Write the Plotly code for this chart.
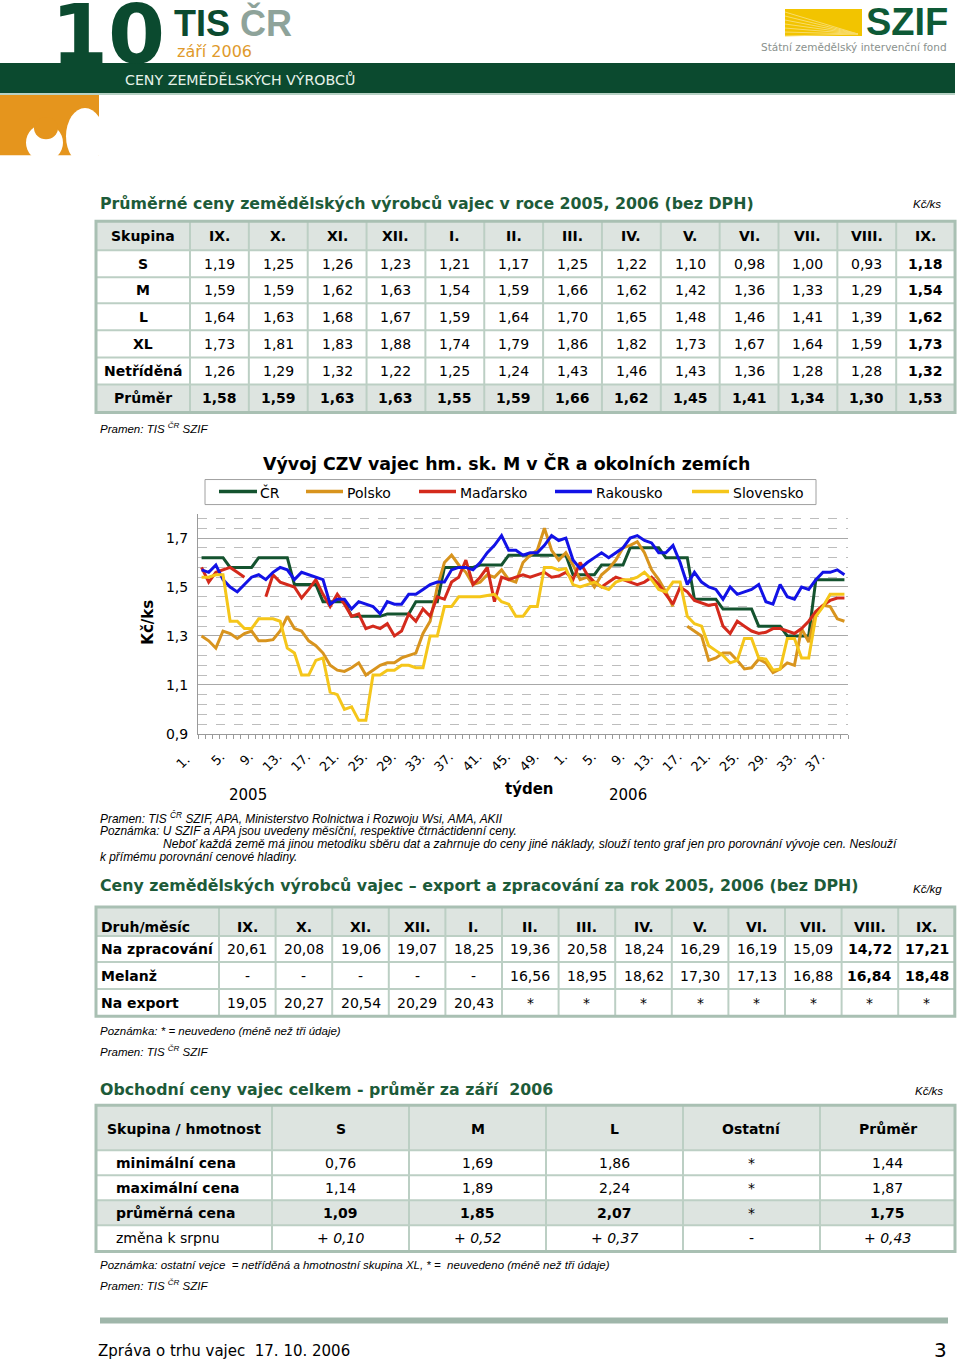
import plotly.graph_objects as go

W, H = 960, 1359
CAL_SY = 0.993  # measured vertical scale of the captured page


def fx(px):
    return px / W


def fy(py):
    return 1 - (py / CAL_SY) / H


# ---------------- chart data (weekly prices, Kč/ks) ----------------
weeks_2005 = [str(w) + "." for w in range(1, 53)]
weeks_2006 = [str(w) + "." for w in range(1, 40)]
week_labels = weeks_2005 + weeks_2006

cr = [1.62, 1.62, 1.62, 1.62, 1.58, 1.58, 1.58, 1.58, 1.62, 1.62, 1.62, 1.62, 1.62,
      1.51, 1.51, 1.51, 1.51, 1.44, 1.44, 1.44, 1.44, 1.38, 1.38, 1.38, 1.38, 1.38,
      1.39, 1.39, 1.39, 1.39, 1.44, 1.44, 1.44, 1.44, 1.58, 1.58, 1.58, 1.58, 1.58,
      1.59, 1.59, 1.59, 1.59, 1.63, 1.63, 1.63, 1.63, 1.63, 1.63, 1.63, 1.63, 1.63,
      1.55, 1.55, 1.55, 1.55, 1.59, 1.59, 1.59, 1.59, 1.66, 1.66, 1.66, 1.66, 1.66,
      1.62, 1.62, 1.62, 1.62, 1.45, 1.45, 1.45, 1.45, 1.41, 1.41, 1.41, 1.41, 1.41,
      1.34, 1.34, 1.34, 1.34, 1.30, 1.30, 1.30, 1.30, 1.53, 1.53, 1.53, 1.53, 1.53]

polsko = [1.30, 1.28, 1.25, 1.32, 1.31, 1.29, 1.31, 1.32, 1.28, 1.28, 1.285, 1.32, 1.38,
          1.33, 1.32, 1.28, 1.26, 1.23, 1.18, 1.16, 1.155, 1.17, 1.19, 1.14, 1.16, 1.18,
          1.19, 1.19, 1.21, 1.22, 1.23, 1.31, 1.36, 1.50, 1.60, 1.63, 1.59, 1.56, 1.51,
          1.52, 1.55, 1.54, 1.57, 1.53, 1.52, 1.60, 1.63, 1.65, 1.74, 1.65, 1.61, 1.64,
          1.59, 1.53, 1.54, 1.50, 1.55, 1.575, 1.61, 1.66, 1.67, 1.685, 1.64, 1.57, 1.53,
          1.48, 1.42, None, 1.34, 1.32, 1.30, 1.20, 1.21, 1.23, 1.23, 1.20, 1.165, 1.17,
          1.205, 1.19, 1.15, 1.165, 1.19, 1.18, 1.33, 1.275, 1.40, 1.425, 1.42, 1.37, 1.36]

madarsko = [1.58, 1.52, 1.56, 1.57, 1.58, 1.56, 1.54, None, None, 1.46, 1.55, 1.52, 1.51,
            1.50, 1.455, 1.49, 1.53, 1.47, 1.42, 1.47, 1.43, 1.38, 1.39, 1.33, 1.34, 1.33,
            1.35, 1.30, 1.32, 1.39, 1.36, 1.41, 1.38, 1.46, 1.45, 1.52, 1.54, 1.61, 1.51,
            1.54, 1.58, 1.44, 1.54, 1.53, 1.54, 1.55, 1.54, 1.55, 1.56, 1.54, 1.545, 1.56,
            1.53, 1.60, 1.55, 1.52, 1.50, 1.52, 1.54, 1.53, 1.52, 1.51, 1.52, 1.54, 1.51,
            1.47, 1.43, 1.50, 1.48, 1.445, 1.435, 1.425, 1.43, 1.34, 1.31, 1.36, 1.34, 1.32,
            1.31, 1.315, 1.33, 1.33, 1.32, 1.31, 1.33, 1.36, 1.40, 1.425, 1.445, 1.455, 1.455]

rakousko = [1.57, 1.56, 1.59, 1.53, 1.50, 1.48, 1.51, 1.54, 1.55, 1.53, 1.56, 1.58, 1.57,
            1.53, 1.56, 1.55, 1.54, 1.53, 1.43, 1.45, 1.45, 1.41, 1.44, 1.43, 1.42, 1.39,
            1.44, 1.43, 1.43, 1.47, 1.47, 1.49, 1.51, 1.52, 1.52, 1.57, 1.58, 1.58, 1.57,
            1.60, 1.64, 1.67, 1.71, 1.65, 1.65, 1.63, 1.64, 1.64, 1.67, 1.71, 1.69, 1.70,
            1.61, 1.575, 1.60, 1.62, 1.64, 1.62, 1.64, 1.66, 1.70, 1.71, 1.69, 1.68, 1.64,
            1.64, 1.67, 1.60, 1.51, 1.56, 1.52, 1.50, 1.49, 1.45, 1.50, 1.47, 1.48, 1.49,
            1.51, 1.44, 1.43, 1.51, 1.46, 1.45, 1.50, 1.49, 1.53, 1.56, 1.56, 1.57, 1.55]

slovensko = [1.54, 1.54, 1.55, 1.55, 1.36, 1.36, 1.33, 1.33, 1.37, 1.37, 1.37, 1.36, 1.25,
             1.23, 1.14, 1.14, 1.20, 1.21, 1.07, 1.06, 1.00, 1.01, 0.955, 0.955, 1.14, 1.14,
             1.16, 1.16, 1.18, 1.18, 1.17, 1.17, 1.30, 1.30, 1.42, 1.42, 1.46, 1.46, 1.46,
             1.46, 1.465, 1.47, 1.44, 1.43, 1.38, 1.38, 1.42, 1.42, 1.58, 1.58, 1.57, 1.575,
             1.51, 1.50, 1.51, 1.52, 1.50, 1.49, 1.52, 1.53, 1.53, 1.54, 1.56, 1.53, 1.49,
             1.48, 1.52, 1.52, 1.38, 1.35, 1.34, 1.26, 1.24, 1.22, 1.19, 1.20, 1.29, 1.29,
             1.21, 1.205, 1.16, 1.165, 1.29, 1.29, 1.21, 1.21, 1.38, 1.42, 1.47, 1.47, 1.47]

series_names = ["ČR", "Polsko", "Maďarsko", "Rakousko", "Slovensko"]
series_values = [cr, polsko, madarsko, rakousko, slovensko]
series_colors = ["#14532f", "#d8941e", "#d42a1c", "#1212e6", "#f5c61a"]

y_ticks = [0.9, 1.1, 1.3, 1.5, 1.7]

# ---------------- table 1 data ----------------
months = ["IX.", "X.", "XI.", "XII.", "I.", "II.", "III.", "IV.", "V.", "VI.", "VII.", "VIII.", "IX."]
groups = ["S", "M", "L", "XL", "Netříděná", "Průměr"]
price_S = [1.19, 1.25, 1.26, 1.23, 1.21, 1.17, 1.25, 1.22, 1.10, 0.98, 1.00, 0.93, 1.18]
price_M = [1.59, 1.59, 1.62, 1.63, 1.54, 1.59, 1.66, 1.62, 1.42, 1.36, 1.33, 1.29, 1.54]
price_L = [1.64, 1.63, 1.68, 1.67, 1.59, 1.64, 1.70, 1.65, 1.48, 1.46, 1.41, 1.39, 1.62]
price_XL = [1.73, 1.81, 1.83, 1.88, 1.74, 1.79, 1.86, 1.82, 1.73, 1.67, 1.64, 1.59, 1.73]
price_net = [1.26, 1.29, 1.32, 1.22, 1.25, 1.24, 1.43, 1.46, 1.43, 1.36, 1.28, 1.28, 1.32]
price_avg = [1.58, 1.59, 1.63, 1.63, 1.55, 1.59, 1.66, 1.62, 1.45, 1.41, 1.34, 1.30, 1.53]

# ---------------- table 2 data ----------------
kinds = ["Na zpracování", "Melanž", "Na export"]
na_zpracovani = [20.61, 20.08, 19.06, 19.07, 18.25, 19.36, 20.58, 18.24, 16.29, 16.19, 15.09, 14.72, 17.21]
melanz = [None, None, None, None, None, 16.56, 18.95, 18.62, 17.30, 17.13, 16.88, 16.84, 18.48]
na_export = [19.05, 20.27, 20.54, 20.29, 20.43, None, None, None, None, None, None, None, None]

# ---------------- table 3 data ----------------
t3_cols = ["S", "M", "L", "Ostatní", "Průměr"]
t3_rows = ["minimální cena", "maximální cena", "průměrná cena", "změna k srpnu"]
min_price = [0.76, 1.69, 1.86, None, 1.44]
max_price = [1.14, 1.89, 2.24, None, 1.87]
avg_price = [1.09, 1.85, 2.07, None, 1.75]
change_aug = [0.10, 0.52, 0.37, None, 0.43]

# ---------------- styling ----------------
FONT = "DejaVu Sans"
NOTE_FONT = "Liberation Sans"
DARK = "#0b4a2f"
TITLE_GREEN = "#1d5b39"
HDR_FILL = "#dde4e0"
LINE_C = "#bccfc4"
OUT_C = "#a9c0b3"
LABEL_SHIFT = 1.3  # rotated labels sit slightly left of their category, as in the original

PLOT_X0, PLOT_X1 = 198, 848


def num(v):
    return f"{v:.2f}".replace(".", ",")


fig = go.Figure()

# ---------------- line chart ----------------
x_idx = list(range(len(week_labels)))
for name, vals, col in zip(series_names, series_values, series_colors):
    fig.add_trace(go.Scatter(x=x_idx, y=vals, mode="lines", name=name,
                             line=dict(color=col, width=3), connectgaps=False,
                             hoverinfo="skip"))

x_range = [-0.5, len(week_labels) - 0.5]
tick_idx = [i for i, lbl in enumerate(week_labels) if (int(lbl[:-1]) - 1) % 4 == 0]
axis_ticks = [i for i in tick_idx if i - LABEL_SHIFT >= x_range[0]]
edge_ticks = [i for i in tick_idx if i - LABEL_SHIFT < x_range[0]]

fig.update_layout(
    xaxis=dict(domain=[fx(PLOT_X0), fx(PLOT_X1)], range=x_range,
               tickmode="array", tickvals=[i - LABEL_SHIFT for i in axis_ticks],
               ticktext=[week_labels[i] for i in axis_ticks],
               tickangle=-45, tickfont=dict(family=FONT, size=13, color="black"),
               showgrid=False, zeroline=False, showline=True, linecolor="#9a9a9a", linewidth=1,
               ticks="", ticklabelstandoff=9,
               minor=dict(ticks="outside", tickmode="linear", tick0=-0.5, dtick=1,
                          ticklen=4, tickcolor="#9a9a9a", showgrid=False)),
    yaxis=dict(domain=[fy(733), fy(513)], range=[0.9, 1.8],
               tickmode="array", tickvals=y_ticks, ticktext=[f"{v:.1f}".replace(".", ",") for v in y_ticks],
               tickfont=dict(family=FONT, size=14, color="black"),
               showgrid=True, gridcolor="#a8a8a8", gridwidth=1, zeroline=False,
               showline=True, linecolor="#9a9a9a", linewidth=1, ticks="", ticklabelstandoff=6,
               minor=dict(tickmode="linear", tick0=0.9, dtick=0.04, showgrid=True,
                          gridcolor="#bdbdbd", griddash="dash", gridwidth=1)),
)

shapes = []
ann = []


def rect(x0, y0, x1, y1, fill=None, line=None, lw=0, layer="above", kind="rect"):
    d = dict(type=kind, xref="paper", yref="paper", x0=fx(x0), x1=fx(x1), y0=fy(y0), y1=fy(y1),
             layer=layer)
    d["fillcolor"] = fill if fill else "rgba(0,0,0,0)"
    d["line"] = dict(color=line if line else "rgba(0,0,0,0)", width=lw)
    shapes.append(d)


def seg(x0, y0, x1, y1, color, lw):
    shapes.append(dict(type="line", xref="paper", yref="paper", x0=fx(x0), x1=fx(x1),
                       y0=fy(y0), y1=fy(y1), line=dict(color=color, width=lw)))


def text(x, y, s, size, color="black", family=FONT, xanchor="left", yanchor="middle", angle=0):
    ann.append(dict(x=fx(x), y=fy(y), xref="paper", yref="paper", text=s, showarrow=False,
                    xanchor=xanchor, yanchor=yanchor, textangle=angle,
                    font=dict(family=family, size=size, color=color), borderpad=0))


def draw_table(x_edges, y_edges, cells, row_fills, aligns, left_pads, text_dy=None, size=14):
    for r in range(len(y_edges) - 1):
        if row_fills[r]:
            rect(x_edges[0], y_edges[r], x_edges[-1], y_edges[r + 1], fill=row_fills[r], layer="below")
    for xe in x_edges[1:-1]:
        seg(xe, y_edges[0], xe, y_edges[-1], LINE_C, 2)
    for ye in y_edges[1:-1]:
        seg(x_edges[0], ye, x_edges[-1], ye, LINE_C, 2)
    rect(x_edges[0], y_edges[0], x_edges[-1], y_edges[-1], line=OUT_C, lw=3)
    for r, row in enumerate(cells):
        yc = (y_edges[r] + y_edges[r + 1]) / 2 + (text_dy[r] if text_dy else 0)
        for c, s in enumerate(row):
            if aligns[c] == "left":
                text(x_edges[c] + left_pads[r], yc, s, size)
            else:
                text((x_edges[c] + x_edges[c + 1]) / 2, yc, s, size, xanchor="center")


# week label(s) that fall left of the axis range: drawn as rotated text at the same spot
cat_px = (PLOT_X1 - PLOT_X0) / (x_range[1] - x_range[0])
for i in edge_ticks:
    px = PLOT_X0 + (i - LABEL_SHIFT - x_range[0]) * cat_px
    text(px + 2, 750, week_labels[i], 13, xanchor="right", yanchor="top", angle=-45)

# ---------------- table 1 ----------------
t1_rows = [price_S, price_M, price_L, price_XL, price_net, price_avg]
t1_cells = [["<b>Skupina</b>"] + [f"<b>{m}</b>" for m in months]]
for r, (g, row) in enumerate(zip(groups, t1_rows)):
    line = [f"<b>{g}</b>"]
    for j, v in enumerate(row):
        s = num(v)
        if r == len(t1_rows) - 1 or j == len(months) - 1:
            s = f"<b>{s}</b>"
        line.append(s)
    t1_cells.append(line)
t1_x = [96, 190] + [190 + 58.85 * (k + 1) for k in range(len(months))]
t1_y = [221, 250, 277, 303, 330, 357, 384, 412]
draw_table(t1_x, t1_y, t1_cells, [HDR_FILL, None, None, None, None, None, HDR_FILL],
           ["center"] * 14, [0] * 7)

# ---------------- table 2 ----------------
t2_rows = [na_zpracovani, melanz, na_export]
t2_missing = ["-", "-", "*"]
t2_cells = [["<b>Druh/měsíc</b>"] + [f"<b>{m}</b>" for m in months]]
for r, (k, row) in enumerate(zip(kinds, t2_rows)):
    line = [f"<b>{k}</b>"]
    for j, v in enumerate(row):
        if v is None:
            line.append(t2_missing[r])
        else:
            s = num(v)
            if j >= len(months) - 2:
                s = f"<b>{s}</b>"
            line.append(s)
    t2_cells.append(line)
t2_x = [96, 219] + [219 + 56.6 * (k + 1) for k in range(len(months))]
t2_y = [906, 935, 961, 988, 1015]
draw_table(t2_x, t2_y, t2_cells, [HDR_FILL, None, None, None],
           ["left"] + ["center"] * 13, [4, 4, 4, 4], text_dy=[5.5, 0, 0, 0])

# ---------------- table 3 ----------------
t3_cells = [["<b>Skupina / hmotnost</b>"] + [f"<b>{c}</b>" for c in t3_cols]]
for r, (lbl, row) in enumerate(zip(t3_rows, [min_price, max_price, avg_price, change_aug])):
    line = [lbl if r == 3 else f"<b>{lbl}</b>"]
    for v in row:
        if r < 3:
            s = "*" if v is None else num(v)
            if r == 2 and v is not None:
                s = f"<b>{s}</b>"
        else:
            s = "-" if v is None else f"<i>+ {num(v)}</i>"
        line.append(s)
    t3_cells.append(line)
t3_x = [96, 272, 409, 546, 683, 820, 955]
t3_y = [1104, 1149, 1174, 1199, 1224, 1250]
draw_table(t3_x, t3_y, t3_cells, [HDR_FILL, None, None, HDR_FILL, None],
           ["left"] + ["center"] * 5, [10, 19, 19, 19, 19], text_dy=[1, 0, 0, 0, 0])

# ---------------- page decorations ----------------
rect(0, 63, 955, 93, fill=DARK, layer="below")
seg(0, 94, 955, 94, "#9fc2b0", 1.5)
rect(0, 95, 99, 155, fill="#e5951d", layer="below")
# egg logo
rect(66, 108, 104, 164, fill="white", kind="circle")
rect(26, 124, 63, 161, fill="white", kind="circle")
rect(34, 117, 58, 139, fill="#e5951d", kind="circle")
# SZIF logo
rect(785, 9, 862, 36, fill="#f2c400", layer="below")
for k in range(7):
    seg(785, 12 + 4 * k, 858, 34, "#f9dc6a", 1)

# chart legend
rect(205, 479, 816, 504, line="#a0a0a0", lw=1)
legend_pos = [(219, 257, 259), (306, 343, 346), (419, 456, 459), (555, 592, 595), (692, 729, 732)]
for (x0, x1, xt), col in zip(legend_pos, series_colors):
    seg(x0, 491, x1, 491, col, 3.5)

# footer line
rect(100, 1316, 948, 1322, fill="#9fb6aa", layer="below")

# page header texts
text(50, 34, "<b>10</b>", 82, DARK)
text(173, 23, "<b>TIS <span style='color:#8ea39a'>ČR</span></b>", 36, DARK, family="Liberation Sans")
text(176, 51, "září 2006", 16, "#e09a2b")
text(124, 79, "CENY ZEMĚDĚLSKÝCH VÝROBCŮ", 14.2, "#e6f2ea")
text(949, 22, "<b>SZIF</b>", 38, "#0e5a36", family="Liberation Sans", xanchor="right")
text(948, 47, "Státní zemědělský intervenční fond", 10.5, "#8a918d", xanchor="right")

# table 1 title
text(99, 203, "<b>Průměrné ceny zemědělských výrobců vajec v roce 2005, 2006 (bez DPH)</b>", 15.8, TITLE_GREEN)
text(942, 204, "<i>Kč/ks</i>", 11.5, "black", family=NOTE_FONT, xanchor="right")
text(99, 428, "<i>Pramen: TIS <sup>ČR</sup> SZIF</i>", 11.5, family=NOTE_FONT)

# chart texts
text(506, 463, "<b>Vývoj CZV vajec hm. sk. M v ČR a okolních zemích</b>", 17.4, "black", xanchor="center")
for (x0, x1, xt), name in zip(legend_pos, series_names):
    text(xt, 492, name, 14)
text(148, 622, "<b>Kč/ks</b>", 15, xanchor="center", angle=-90)
text(248, 794, "2005", 15, xanchor="center")
text(529, 788, "<b>týden</b>", 15, xanchor="center")
text(628, 794, "2006", 15, xanchor="center")

text(99, 817, "<i>Pramen: TIS <sup>ČR</sup> SZIF, APA, Ministerstvo Rolnictwa i Rozwoju Wsi, AMA, AKII</i>", 11.9,
     family=NOTE_FONT)
text(99, 830, "<i>Poznámka: U SZIF a APA jsou uvedeny měsíční, respektive čtrnáctidenní ceny.</i>", 11.9,
     family=NOTE_FONT)
text(162, 843, "<i>Neboť každá země má jinou metodiku sběru dat a zahrnuje do ceny jiné náklady, slouží tento graf jen "
               "pro porovnání vývoje cen. Neslouží</i>", 12.1, family=NOTE_FONT)
text(99, 856, "<i>k přímému porovnání cenové hladiny.</i>", 11.9, family=NOTE_FONT)

# table 2 texts
text(99, 885, "<b>Ceny zemědělských výrobců vajec – export a zpracování za rok 2005, 2006 (bez DPH)</b>", 15.8,
     TITLE_GREEN)
text(943, 888, "<i>Kč/kg</i>", 11.5, family=NOTE_FONT, xanchor="right")
text(99, 1030, "<i>Poznámka: * = neuvedeno (méně než tři údaje)</i>", 11.5, family=NOTE_FONT)
text(99, 1050, "<i>Pramen: TIS <sup>ČR</sup> SZIF</i>", 11.5, family=NOTE_FONT)

# table 3 texts
text(99, 1088, "<b>Obchodní ceny vajec celkem - průměr za září  2006</b>", 15.8, TITLE_GREEN)
text(944, 1090, "<i>Kč/ks</i>", 11.5, family=NOTE_FONT, xanchor="right")
text(99, 1264, "<i>Poznámka: ostatní vejce  = netříděná a hmotnostní skupina XL, * =  neuvedeno (méně než tři údaje)</i>",
     11.5, family=NOTE_FONT)
text(99, 1284, "<i>Pramen: TIS <sup>ČR</sup> SZIF</i>", 11.5, family=NOTE_FONT)

# footer
text(97, 1349, "Zpráva o trhu vajec  17. 10. 2006", 15)
text(948, 1348, "3", 20, xanchor="right")

fig.update_layout(
    shapes=shapes, annotations=ann,
    width=W, height=H, margin=dict(l=0, r=0, t=0, b=0), autosize=False,
    paper_bgcolor="white", plot_bgcolor="white", showlegend=False,
)

fig.write_html(
    "out.html",
    config={"displayModeBar": False, "responsive": False},
    post_script=("document.documentElement.style.margin='0';document.body.style.margin='0';"
                 "document.body.style.padding='0';document.body.style.overflow='hidden';"
                 "var d=document.getElementById('{plot_id}');d.style.position='absolute';"
                 "d.style.left='0px';d.style.top='0px';"),
)
